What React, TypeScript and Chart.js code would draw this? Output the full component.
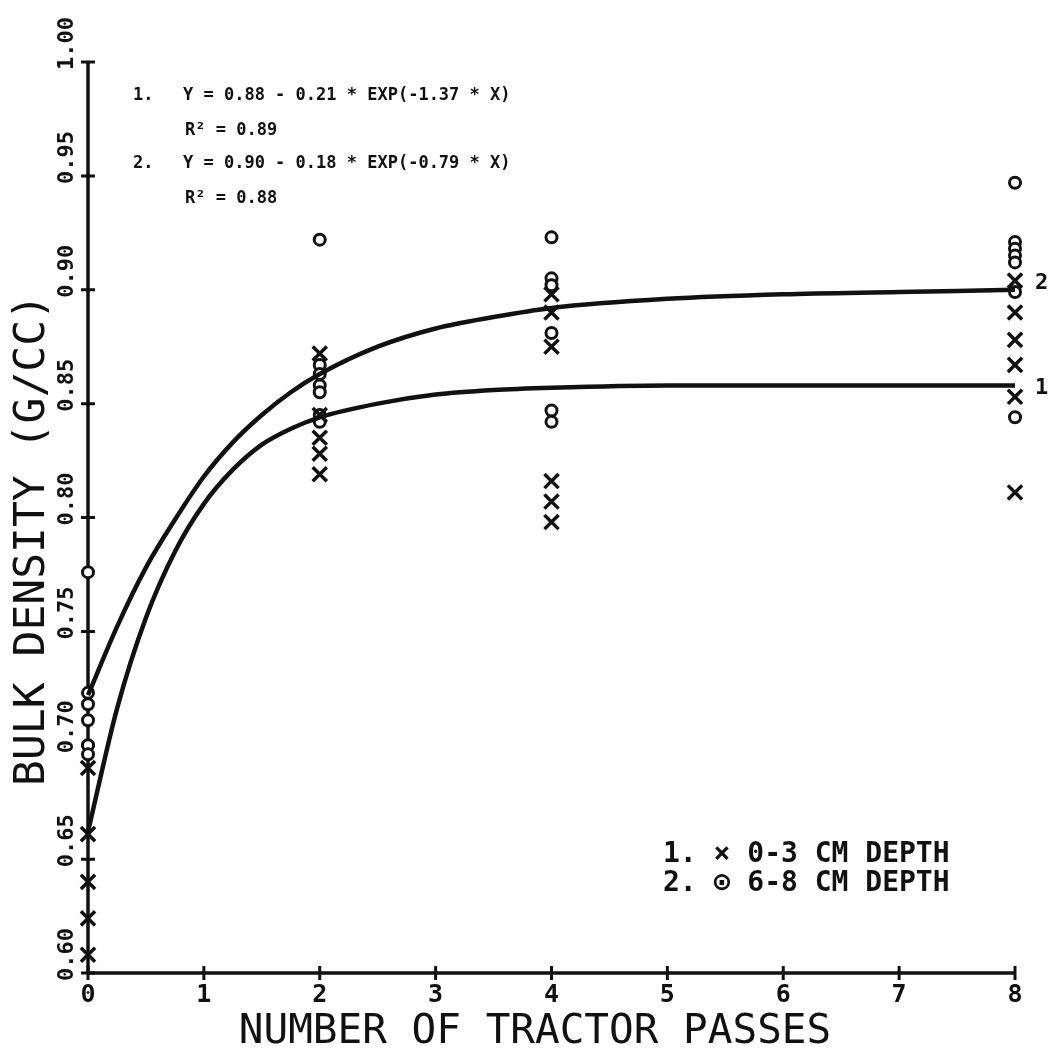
import React, { useEffect, useRef } from "react";
import { Chart, registerables } from "chart.js";

Chart.register(...registerables);

// ---- data ----
const xTickValues = [0, 1, 2, 3, 4, 5, 6, 7, 8];
const yTickValues = [0.6, 0.65, 0.7, 0.75, 0.8, 0.85, 0.9, 0.95, 1.0];

// fitted curve 1 (0-3 cm)
const curve1X = [0, 0.25, 0.5, 0.75, 1, 1.25, 1.5, 1.75, 2, 2.5, 3, 3.5, 4, 5, 6, 7, 8];
const curve1Y = [0.662, 0.716, 0.756, 0.785, 0.806, 0.821, 0.832, 0.839, 0.844, 0.850, 0.854, 0.856, 0.857, 0.858, 0.858, 0.858, 0.858];

// fitted curve 2 (6-8 cm)
const curve2X = [0, 0.25, 0.5, 0.75, 1, 1.25, 1.5, 1.75, 2, 2.5, 3, 3.5, 4, 5, 6, 7, 8];
const curve2Y = [0.722, 0.752, 0.778, 0.799, 0.818, 0.833, 0.845, 0.855, 0.863, 0.875, 0.883, 0.888, 0.892, 0.896, 0.898, 0.899, 0.900];

// observations, 0-3 cm depth (x markers)
const depth1X = [0, 0, 0, 0, 0, 2, 2, 2, 2, 2, 4, 4, 4, 4, 4, 4, 8, 8, 8, 8, 8, 8];
const depth1Y = [0.690, 0.661, 0.640, 0.624, 0.608, 0.872, 0.845, 0.835, 0.828, 0.819, 0.898, 0.890, 0.875, 0.816, 0.807, 0.798, 0.904, 0.890, 0.878, 0.867, 0.853, 0.811];

// observations, 6-8 cm depth (circle markers)
const depth2X = [0, 0, 0, 0, 0, 0, 2, 2, 2, 2, 2, 2, 2, 4, 4, 4, 4, 4, 4, 8, 8, 8, 8, 8, 8, 8];
const depth2Y = [0.776, 0.723, 0.718, 0.711, 0.700, 0.696, 0.922, 0.867, 0.863, 0.858, 0.855, 0.845, 0.842, 0.923, 0.905, 0.902, 0.881, 0.847, 0.842, 0.947, 0.921, 0.918, 0.915, 0.912, 0.899, 0.844];

const equationLines = [
  { num: "1.", eq: "Y = 0.88 - 0.21 * EXP(-1.37 * X)", r2: "R² = 0.89" },
  { num: "2.", eq: "Y = 0.90 - 0.18 * EXP(-0.79 * X)", r2: "R² = 0.88" },
];
const legendLines = ["1. × 0-3 CM DEPTH", "2. ⊙ 6-8 CM DEPTH"];
const xTitle = "NUMBER OF TRACTOR PASSES";
const yTitle = "BULK DENSITY (G/CC)";
const curveLabels = ["1", "2"];

const zip = (xs: number[], ys: number[]) => xs.map((x, i) => ({ x, y: ys[i] }));

const MONO = '"DejaVu Sans Mono", "Liberation Mono", monospace';

const axesPlugin = {
  id: "plotterAxes",
  beforeDatasetsDraw(chart: any) {
    const ctx = chart.ctx as CanvasRenderingContext2D;
    const xs = chart.scales.x;
    const ys = chart.scales.y;
    const x0 = xs.getPixelForValue(0);
    const x8 = xs.getPixelForValue(8);
    const yb = ys.getPixelForValue(0.6);
    const yt = ys.getPixelForValue(1.0);
    ctx.save();
    ctx.strokeStyle = "#111";
    ctx.lineWidth = 3.5;
    ctx.lineCap = "butt";
    ctx.beginPath();
    ctx.moveTo(x0, yb);
    ctx.lineTo(x0, yt);
    ctx.moveTo(x0, yb);
    ctx.lineTo(x8, yb);
    ctx.stroke();
    ctx.lineWidth = 3;
    ctx.beginPath();
    for (const v of yTickValues) {
      const py = ys.getPixelForValue(v);
      ctx.moveTo(x0 - 7, py);
      ctx.lineTo(x0 + 7, py);
    }
    for (const v of xTickValues) {
      const px = xs.getPixelForValue(v);
      ctx.moveTo(px, yb - 7);
      ctx.lineTo(px, yb + 7);
    }
    ctx.stroke();

    // tick labels
    ctx.fillStyle = "#111";
    ctx.font = `bold 22px ${MONO}`;
    for (const v of yTickValues) {
      const py = ys.getPixelForValue(v);
      ctx.save();
      ctx.translate(67, py + 8);
      ctx.rotate(-Math.PI / 2);
      ctx.textAlign = "left";
      ctx.textBaseline = "middle";
      ctx.fillText(v.toFixed(2), 0, 0);
      ctx.restore();
    }
    ctx.font = `bold 25px ${MONO}`;
    ctx.textAlign = "center";
    ctx.textBaseline = "middle";
    for (const v of xTickValues) {
      const px = xs.getPixelForValue(v);
      ctx.fillText(String(v), px, 995);
    }
    ctx.restore();
  },
  afterDraw(chart: any) {
    const ctx = chart.ctx as CanvasRenderingContext2D;
    const xs = chart.scales.x;
    const ys = chart.scales.y;
    ctx.save();
    ctx.fillStyle = "#111";

    // axis titles
    ctx.font = `41px ${MONO}`;
    ctx.textAlign = "center";
    ctx.textBaseline = "alphabetic";
    ctx.fillText(xTitle, 535, 1043);
    ctx.font = `43px ${MONO}`;
    ctx.save();
    ctx.translate(44, 540);
    ctx.rotate(-Math.PI / 2);
    ctx.fillText(yTitle, 0, 0);
    ctx.restore();

    // equations
    ctx.font = `bold 17px ${MONO}`;
    ctx.textAlign = "left";
    const rows = [100, 168];
    equationLines.forEach((l, i) => {
      ctx.fillText(l.num, 133, rows[i]);
      ctx.fillText(l.eq, 183, rows[i]);
      ctx.fillText(l.r2, 185, rows[i] + 35);
    });

    // legend
    ctx.font = `bold 28px ${MONO}`;
    legendLines.forEach((t, i) => {
      ctx.fillText(t, 663, 862 + i * 29);
    });

    // curve end labels
    ctx.font = `bold 22px ${MONO}`;
    ctx.textBaseline = "middle";
    const xe = xs.getPixelForValue(8) + 20;
    ctx.fillText(curveLabels[0], xe, ys.getPixelForValue(curve1Y[curve1Y.length - 1]) + 3);
    ctx.fillText(curveLabels[1], xe, ys.getPixelForValue(curve2Y[curve2Y.length - 1]) - 6);
    ctx.restore();
  },
};

export default function App() {
  const ref = useRef<HTMLCanvasElement | null>(null);
  useEffect(() => {
    if (!ref.current) return;
    const chart = new Chart(ref.current, {
      type: "scatter",
      data: {
        datasets: [
          {
            type: "line",
            label: "curve 2",
            data: zip(curve2X, curve2Y),
            borderColor: "#111",
            borderWidth: 4.5,
            pointRadius: 0,
            fill: false,
            cubicInterpolationMode: "monotone",
            clip: false,
          } as any,
          {
            type: "line",
            label: "curve 1",
            data: zip(curve1X, curve1Y),
            borderColor: "#111",
            borderWidth: 4.5,
            pointRadius: 0,
            fill: false,
            cubicInterpolationMode: "monotone",
            clip: false,
          } as any,
          {
            label: "0-3 CM DEPTH",
            data: zip(depth1X, depth1Y),
            pointStyle: "crossRot",
            pointRadius: 10,
            borderColor: "#111",
            backgroundColor: "#111",
            borderWidth: 3.5,
            clip: false,
          } as any,
          {
            label: "6-8 CM DEPTH",
            data: zip(depth2X, depth2Y),
            pointStyle: "circle",
            pointRadius: 5.5,
            borderColor: "#111",
            backgroundColor: "#fff",
            borderWidth: 3,
            clip: false,
          } as any,
        ],
      },
      options: {
        responsive: false,
        animation: false,
        devicePixelRatio: 1,
        layout: { padding: { left: 88, right: 35, top: 62, bottom: 80 } },
        scales: {
          x: { type: "linear", min: 0, max: 8, display: false },
          y: { type: "linear", min: 0.6, max: 1.0, display: false },
        },
        plugins: { legend: { display: false }, tooltip: { enabled: false } },
      } as any,
      plugins: [axesPlugin],
    });
    return () => chart.destroy();
  }, []);
  return (
    <div style={{ position: "absolute", left: 0, top: 0, width: 1050, height: 1053, background: "#fff" }}>
      <canvas ref={ref} width={1050} height={1053} style={{ display: "block" }} />
    </div>
  );
}
